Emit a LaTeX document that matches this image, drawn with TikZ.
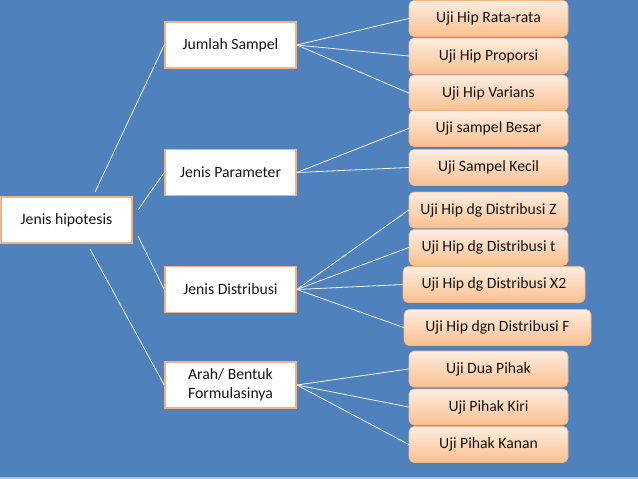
\documentclass[tikz,border=0pt]{standalone}
\usepackage{fontspec}
\setmainfont{Carlito}
\usetikzlibrary{shadows}
\definecolor{bgblue}{HTML}{4F81BD}
\definecolor{strip}{HTML}{A9C3E3}
\definecolor{midborder}{HTML}{F2B283}
\definecolor{leaftop}{HTML}{FDEDE0}
\definecolor{leafbot}{HTML}{FAC08F}
\definecolor{leafborder}{HTML}{F7B384}
\definecolor{txt}{HTML}{141414}
\tikzset{
  midbox/.style={draw=midborder, line width=1.6pt, fill=white, minimum width=131pt, minimum height=46pt, inner sep=2pt, align=center, text=txt, font=\fontsize{15.7}{18.5}\selectfont},
  leafbox/.style={draw=leafborder, line width=0.6pt, rounded corners=5pt, top color=leaftop, bottom color=leafbot, minimum height=36pt, inner sep=2pt, align=center, text=txt, font=\fontsize{15.7}{18.5}\selectfont, drop shadow={opacity=0.35, shadow xshift=0.6pt, shadow yshift=-1pt}},
  conn/.style={draw=white!92!bgblue, line width=0.8pt}
}
\begin{document}
\begin{tikzpicture}[x=1pt,y=-1pt]
\fill[bgblue] (0,0) rectangle (638,479);
\fill[strip] (0,476.5) rectangle (638,479);
\useasboundingbox (0,0) rectangle (638,479);

\node[midbox, minimum width=131pt] (root) at (66.5,220) {Jenis hipotesis};
\node[midbox] (jum) at (230.5,45) {Jumlah Sampel};
\node[midbox] (par) at (230.5,172.5) {Jenis Parameter};
\node[midbox] (dis) at (230.5,289.5) {Jenis Distribusi};
\node[midbox] (arah) at (230.5,385) {Arah/ Bentuk\\Formulasinya};

\node[leafbox, minimum width=159pt] (l1) at (488.5,18.5) {Uji Hip Rata-rata};
\node[leafbox, minimum width=159pt] (l2) at (488.5,56) {Uji Hip Proporsi};
\node[leafbox, minimum width=159pt] (l3) at (488.5,93) {Uji Hip Varians};
\node[leafbox, minimum width=159pt] (l4) at (488.5,128.5) {Uji sampel Besar};
\node[leafbox, minimum width=159pt] (l5) at (488.5,167.5) {Uji Sampel Kecil};
\node[leafbox, minimum width=159pt] (l6) at (488.5,210) {Uji Hip dg Distribusi Z};
\node[leafbox, minimum width=159pt] (l7) at (488.5,247.5) {Uji Hip dg Distribusi t};
\node[leafbox, minimum width=182pt] (l8) at (494,284.5) {Uji Hip dg Distribusi X2};
\node[leafbox, minimum width=187pt] (l9) at (497.5,327.5) {Uji Hip dgn Distribusi F};
\node[leafbox, minimum width=159pt] (l10) at (488.5,369) {Uji Dua Pihak};
\node[leafbox, minimum width=159pt] (l11) at (488.5,407) {Uji Pihak Kiri};
\node[leafbox, minimum width=159pt] (l12) at (488.5,444.5) {Uji Pihak Kanan};

\coordinate (r1) at (95,192);
\coordinate (r2) at (138,210);
\coordinate (r3) at (138,236);
\coordinate (r4) at (90,249);

\draw[conn] (r1) -- (jum.west);
\draw[conn] (r2) -- (par.west);
\draw[conn] (r3) -- (dis.west);
\draw[conn] (r4) -- (arah.west);

\foreach \l in {l1,l2,l3} \draw[conn] (jum.east) -- (\l.west);
\foreach \l in {l4,l5} \draw[conn] (par.east) -- (\l.west);
\foreach \l in {l6,l7,l8,l9} \draw[conn] (dis.east) -- (\l.west);
\foreach \l in {l10,l11,l12} \draw[conn] (arah.east) -- (\l.west);
\end{tikzpicture}
\end{document}
